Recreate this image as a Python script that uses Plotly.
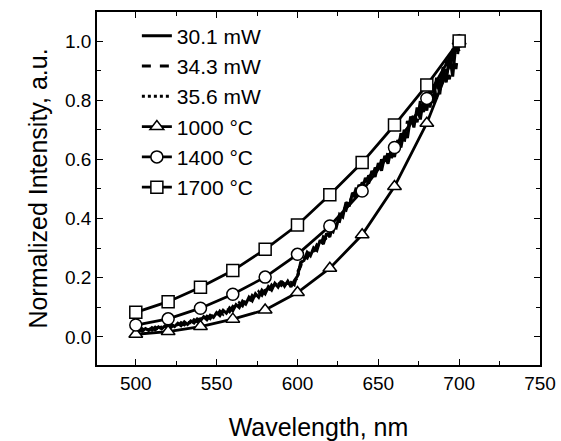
import plotly.graph_objects as go

# ---- data ----
wavelength = list(range(500, 701, 2))

spec_30_1 = [
    .017, .026, .019, .028, .022, .031, .024, .034, .027, .037,
    .031, .042, .035, .046, .038, .051, .042, .054, .047, .061,
    .055, .068, .058, .073, .066, .082, .072, .090, .080, .098,
    .088, .109, .099, .121, .111, .134, .122, .146, .134, .158,
    .146, .170, .158, .181, .168, .189, .171, .188, .169, .190,
    .205, .252, .258, .286, .274, .301, .292, .327, .314, .350,
    .338, .380, .370, .414, .405, .455, .441, .487, .474, .514,
    .497, .537, .518, .561, .541, .587, .562, .612, .585, .636,
    .608, .665, .640, .700, .672, .745, .708, .775, .735, .808,
    .765, .842, .790, .876, .820, .912, .860, .955, .880, .990,
    .965]

spec_34_3 = [
    .024, .019, .027, .021, .029, .023, .033, .026, .035, .029,
    .040, .033, .044, .037, .048, .041, .052, .045, .058, .051,
    .066, .057, .070, .062, .078, .069, .087, .077, .095, .085,
    .103, .094, .115, .105, .127, .117, .140, .129, .152, .141,
    .163, .153, .175, .163, .184, .174, .186, .173, .184, .176,
    .218, .240, .272, .266, .292, .281, .310, .300, .338, .328,
    .362, .355, .392, .390, .432, .428, .465, .462, .498, .488,
    .522, .508, .546, .530, .572, .555, .600, .578, .626, .603,
    .652, .625, .688, .655, .730, .700, .760, .725, .798, .760,
    .828, .775, .858, .805, .892, .845, .935, .870, .975, .905,
    1.0]

spec_35_6 = [
    .021, .023, .025, .022, .026, .028, .027, .030, .033, .031,
    .036, .038, .037, .042, .044, .043, .049, .048, .053, .059,
    .061, .060, .066, .068, .072, .078, .080, .086, .090, .093,
    .097, .104, .108, .116, .120, .128, .133, .139, .146, .152,
    .158, .163, .172, .175, .180, .183, .178, .181, .175, .186,
    .200, .248, .262, .280, .286, .290, .308, .318, .322, .345,
    .350, .372, .378, .405, .418, .446, .450, .478, .490, .506,
    .515, .525, .540, .548, .565, .574, .588, .596, .612, .622,
    .638, .650, .668, .684, .705, .722, .740, .756, .775, .790,
    .805, .822, .836, .855, .868, .895, .902, .935, .938, .968,
    .985]

calc_wavelength = [500, 520, 540, 560, 580, 600, 620, 640, 660, 680, 700]
calc_1000 = [0.009, 0.018, 0.035, 0.060, 0.091, 0.150, 0.232, 0.345, 0.508, 0.722, 1.0]
calc_1400 = [0.040, 0.061, 0.097, 0.144, 0.202, 0.279, 0.375, 0.493, 0.640, 0.806, 1.0]
calc_1700 = [0.083, 0.119, 0.168, 0.224, 0.296, 0.378, 0.480, 0.589, 0.716, 0.851, 1.0]

spec_names = ["30.1 mW", "34.3 mW", "35.6 mW"]
calc_names = ["1000 °C", "1400 °C", "1700 °C"]

x_ticks = [500, 550, 600, 650, 700, 750]
y_ticks = [0.0, 0.2, 0.4, 0.6, 0.8, 1.0]
y_tick_text = ["0.0", "0.2", "0.4", "0.6", "0.8", "1.0"]

# ---- figure ----
fig = go.Figure()
for name, ys, dash in zip(spec_names, [spec_30_1, spec_34_3, spec_35_6],
                          ["solid", "dash", "dot"]):
    fig.add_trace(go.Scatter(x=wavelength, y=ys, mode="lines", name=name,
                             line=dict(color="black", width=3.0, dash=dash)))

for name, ys, sym in zip(calc_names, [calc_1000, calc_1400, calc_1700],
                         ["triangle-up", "circle", "square"]):
    fig.add_trace(go.Scatter(x=calc_wavelength, y=ys, mode="lines+markers", name=name,
                             line=dict(color="black", width=2.8),
                             marker=dict(symbol=sym, size=12, color="white",
                                         line=dict(color="black", width=1.5))))

font_family = "Liberation Sans, Arial, Helvetica, sans-serif"
axis_common = dict(showline=True, linecolor="black", linewidth=1.6, mirror="allticks",
                   ticks="inside", ticklen=6, tickwidth=1.4, tickcolor="black",
                   showgrid=False, zeroline=False, automargin=False,
                   tickfont=dict(family=font_family, size=19, color="black"))

fig.update_layout(
    width=561, height=441,
    margin=dict(l=97, r=21, t=12, b=76, autoexpand=False),
    paper_bgcolor="white", plot_bgcolor="white",
    font=dict(family=font_family, color="black"),
    xaxis=dict(range=[476, 750], tickvals=x_ticks,
               minor=dict(dtick=25, tick0=475, ticks="inside", ticklen=4, tickcolor="black", tickwidth=1.2),
               title=dict(text="Wavelength, nm", font=dict(size=25), standoff=26),
               **axis_common),
    yaxis=dict(range=[-0.095, 1.098], tickvals=y_ticks, ticktext=y_tick_text,
               minor=dict(dtick=0.1, tick0=0, ticks="inside", ticklen=4, tickcolor="black", tickwidth=1.2),
               title=dict(text="Normalized Intensity, a.u.", font=dict(size=25), standoff=10),
               **axis_common),
    legend=dict(x=0.09, y=0.99, xanchor="left", yanchor="top",
                bgcolor="rgba(0,0,0,0)", borderwidth=0,
                font=dict(family=font_family, size=21, color="black")),
    showlegend=True,
)

fig.write_html("out.html", config={"displayModeBar": False},
               post_script="document.body.style.margin='0';")
